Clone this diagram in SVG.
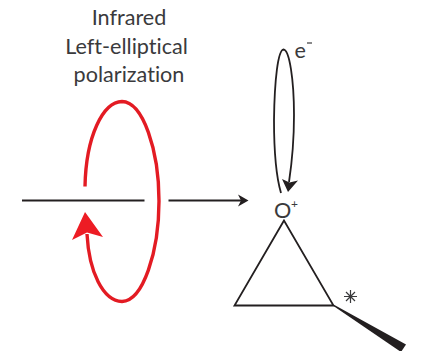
<svg xmlns="http://www.w3.org/2000/svg" width="421" height="351" viewBox="0 0 421 351">
<style>
.t{font-family:"Lato","Open Sans",sans-serif;fill:#3a3a3c;font-variant-ligatures:none;font-size:21.6px}
.k{fill:none;stroke:#231f20;stroke-width:1.8}
.r{fill:none;stroke:#e31b23;stroke-width:3.4}
</style>
<rect width="421" height="351" fill="#fff"/>
<g id="label-title">
<text class="t" x="129" y="25" text-anchor="middle">Infrared</text>
<text class="t" x="126.500" y="54" text-anchor="middle">Left-elliptical</text>
<text class="t" x="129" y="82" text-anchor="middle">polarization</text>
</g>
<g id="connectors">
<path class="k" d="M22 200.500H144.500"/>
<path class="k" d="M168.500 200.500H242"/>
<path fill="#231f20" d="M248.500 200.500L238 194.500L241 200.500L238 206.500Z"/>
<path class="r" d="M85 186.500C86 136 103 102 122 101.500C143 102 159 150 159 201C159 252 143 301 122 301.500C103 301 89 272 87 234"/>
<path fill="#ed1c24" d="M85 212L72 240L87 232.500L103 237Z"/>
<path class="k" d="M281 193C276 176 274 150 274 120C274.500 80 278 50 283.500 49.500C289.500 50 294 80 294 115C294 140 292 162 289 182"/>
<path fill="#231f20" d="M288 192L282 179L289.500 182.500L298 180.500Z"/>
<path class="k" d="M284 220.500L234.500 305.500H333.500L284 220.500Z"/>
<path fill="#231f20" d="M333.500 304.500L406 344.500L401 352L333.500 306Z"/>
</g>
<g id="node-electron">
<text class="t" x="294.500" y="58">e</text>
<path d="M307 43H312" stroke="#3a3a3c" stroke-width="1.200"/>
</g>
<g id="node-oxygen">
<text class="t" x="274" y="217.500">O</text>
<text class="t" x="291" y="208" style="font-size:12px">+</text>
</g>
<g id="node-asterisk">
<path d="M350.500 290V303M344 296.500H357M346 292L355 301M355 292L346 301" stroke="#3a3a3c" stroke-width="1.200" fill="none"/>
</g>
</svg>
